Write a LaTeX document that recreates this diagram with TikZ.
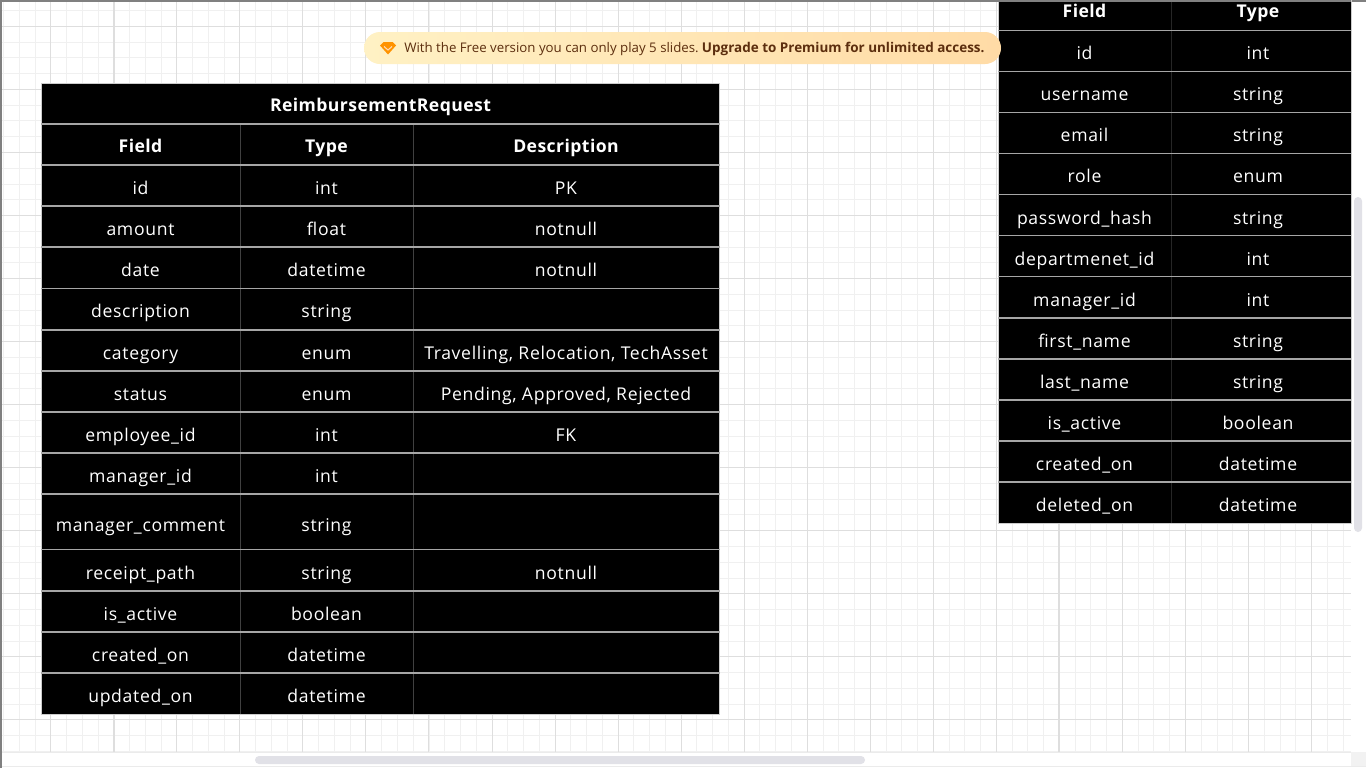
\documentclass[tikz,border=0pt]{standalone}
\usepackage{fontspec}
\setmainfont{Open Sans}
\newfontfamily\tablefont{Open Sans}[LetterSpace=3.8]
\newfontfamily\headfont{Open Sans}[LetterSpace=2.4]
\usetikzlibrary{positioning}
\definecolor{gridminor}{HTML}{F0F0F0}
\definecolor{gridmajor}{HTML}{DEDEDE}
\definecolor{bannerleft}{HTML}{FFF1C4}
\definecolor{bannerright}{HTML}{FFDBA6}
\definecolor{bannertext}{HTML}{5C2E0E}
\definecolor{scrollthumb}{HTML}{E1E1E7}
\begin{document}
\begin{tikzpicture}[
	x=0.75pt, y=-0.75pt,
	cellnode/.style={text=white, font=\tablefont\fontsize{13.2}{15}\selectfont, inner sep=0pt, anchor=center, text height=12.5pt, text depth=2.7pt},
	headnode/.style={text=white, font=\headfont\fontsize{13.2}{15}\selectfont\bfseries, inner sep=0pt, anchor=center, text height=12.5pt, text depth=2.7pt},
	rowrule/.style={draw=black!35, line width=0.8pt},
	colrule/.style={draw=black!75, line width=0.5pt},
	tablebox/.style={fill=black, draw=black!20, line width=0.4pt}
	]
	\useasboundingbox (0,0) rectangle (1366,768);
	\fill[white] (0,0) rectangle (1366,768);

	% Canvas grid
	\begin{scope}
		\clip (2,2) rectangle (1351,752);
		\foreach \k in {-1,...,85} {
			\draw[gridminor, line width=0.6pt] ({3.4+15.76*\k},0) -- ({3.4+15.76*\k},768);
			\draw[gridminor, line width=0.6pt] (0,{-5.2+15.76*\k}) -- (1366,{-5.2+15.76*\k});
		}
		\foreach \k in {-1,...,21} {
			\draw[gridmajor, line width=0.6pt] ({50.7+63.03*\k},0) -- ({50.7+63.03*\k},768);
			\draw[gridmajor, line width=0.6pt] (0,{26.3+63.03*\k}) -- (1366,{26.3+63.03*\k});
		}
		\draw[gridmajor, line width=1.2pt] (113.7,0) -- (113.7,768);
		\draw[gridmajor, line width=1.2pt] (1058.9,0) -- (1058.9,768);
	\end{scope}

	% Window edges and scrollbars
	\draw[black!50, line width=1pt] (1,768) -- (1,1) -- (1366,1);
	\fill[white] (2,752) rectangle (1366,768);
	\fill[white] (1351,2) rectangle (1366,768);
	\draw[black!8, line width=0.6pt] (2,752.5) -- (1351,752.5);
	\draw[black!8, line width=0.6pt] (2,766.5) -- (1366,766.5);
	\fill[black!5] (1351,752) rectangle (1366,766);
	\fill[scrollthumb, rounded corners=3pt] (255,756) rectangle (865,764);
	\fill[scrollthumb, rounded corners=3pt] (1354,197) rectangle (1362,532);

	% Left table
	\filldraw[tablebox] (41,83.5) rectangle (719.5,714);
	\node[headnode] (rtitle) at (380.5,105) {ReimbursementRequest};
	\node[headnode] (rfield) at (140.5,146) {Field};
	\node[headnode] (rtype) at (326.5,146) {Type};
	\node[headnode] (rdesc) at (566,146) {Description};

	\node[cellnode] (r1a) at (140.5,188) {id};
	\node[cellnode] (r1b) at (326.5,188) {int};
	\node[cellnode] (r1c) at (566,188) {PK};
	\node[cellnode] (r2a) at (140.5,229) {amount};
	\node[cellnode] (r2b) at (326.5,229) {float};
	\node[cellnode] (r2c) at (566,229) {notnull};
	\node[cellnode] (r3a) at (140.5,270) {date};
	\node[cellnode] (r3b) at (326.5,270) {datetime};
	\node[cellnode] (r3c) at (566,270) {notnull};
	\node[cellnode] (r4a) at (140.5,311) {description};
	\node[cellnode] (r4b) at (326.5,311) {string};
	\node[cellnode] (r5a) at (140.5,352.5) {category};
	\node[cellnode] (r5b) at (326.5,352.5) {enum};
	\node[cellnode] (r5c) at (566,352.5) {Travelling, Relocation, TechAsset};
	\node[cellnode] (r6a) at (140.5,393.5) {status};
	\node[cellnode] (r6b) at (326.5,393.5) {enum};
	\node[cellnode] (r6c) at (566,393.5) {Pending, Approved, Rejected};
	\node[cellnode] (r7a) at (140.5,434.5) {employee\_id};
	\node[cellnode] (r7b) at (326.5,434.5) {int};
	\node[cellnode] (r7c) at (566,434.5) {FK};
	\node[cellnode] (r8a) at (140.5,476) {manager\_id};
	\node[cellnode] (r8b) at (326.5,476) {int};
	\node[cellnode] (r9a) at (140.5,524.5) {manager\_comment};
	\node[cellnode] (r9b) at (326.5,524.5) {string};
	\node[cellnode] (r10a) at (140.5,572.5) {receipt\_path};
	\node[cellnode] (r10b) at (326.5,572.5) {string};
	\node[cellnode] (r10c) at (566,572.5) {notnull};
	\node[cellnode] (r11a) at (140.5,614) {is\_active};
	\node[cellnode] (r11b) at (326.5,614) {boolean};
	\node[cellnode] (r12a) at (140.5,655) {created\_on};
	\node[cellnode] (r12b) at (326.5,655) {datetime};
	\node[cellnode] (r13a) at (140.5,696) {updated\_on};
	\node[cellnode] (r13b) at (326.5,696) {datetime};

	% Left table rules
	\draw[colrule] (240.5,124) -- (240.5,714);
	\draw[colrule] (413.5,124) -- (413.5,714);
	\foreach \y in {124,165,206,247,288.5,330,371,412,453,494,549.5,591,632,673} {
		\draw[rowrule] (41,\y) -- (719.5,\y);
	}

	% Right table
	\filldraw[tablebox] (998,-3) rectangle (1351,523.5);
	\node[headnode] (ufield) at (1084.5,11) {Field};
	\node[headnode] (utype) at (1258,11) {Type};

	\node[cellnode] (u1a) at (1084.5,53) {id};
	\node[cellnode] (u1b) at (1258,53) {int};
	\node[cellnode] (u2a) at (1084.5,94) {username};
	\node[cellnode] (u2b) at (1258,94) {string};
	\node[cellnode] (u3a) at (1084.5,135) {email};
	\node[cellnode] (u3b) at (1258,135) {string};
	\node[cellnode] (u4a) at (1084.5,176) {role};
	\node[cellnode] (u4b) at (1258,176) {enum};
	\node[cellnode] (u5a) at (1084.5,217.5) {password\_hash};
	\node[cellnode] (u5b) at (1258,217.5) {string};
	\node[cellnode] (u6a) at (1084.5,258.5) {departmenet\_id};
	\node[cellnode] (u6b) at (1258,258.5) {int};
	\node[cellnode] (u7a) at (1084.5,299.5) {manager\_id};
	\node[cellnode] (u7b) at (1258,299.5) {int};
	\node[cellnode] (u8a) at (1084.5,341) {first\_name};
	\node[cellnode] (u8b) at (1258,341) {string};
	\node[cellnode] (u9a) at (1084.5,382) {last\_name};
	\node[cellnode] (u9b) at (1258,382) {string};
	\node[cellnode] (u10a) at (1084.5,423) {is\_active};
	\node[cellnode] (u10b) at (1258,423) {boolean};
	\node[cellnode] (u11a) at (1084.5,464) {created\_on};
	\node[cellnode] (u11b) at (1258,464) {datetime};
	\node[cellnode] (u12a) at (1084.5,505) {deleted\_on};
	\node[cellnode] (u12b) at (1258,505) {datetime};

	% Right table rules
	\draw[colrule, draw=black!85] (1171.5,2) -- (1171.5,523);
	\foreach \y in {30.5,71.5,112.5,153.5,194.5,235.5,276.5,318,359,400,441,482} {
		\draw[rowrule] (998,\y) -- (1351,\y);
	}
	\draw[black!50, line width=1pt] (998,1) -- (1351,1);

	% Banner
	\node[left color=bannerleft, right color=bannerright, rounded corners=12pt, minimum width=637*0.75pt, minimum height=32*0.75pt, inner sep=0pt] (banner) at (682.5,48) {};
	\node[text=bannertext, font=\fontsize{9.95}{12}\selectfont, inner sep=0pt, anchor=west, text height=8pt, text depth=2pt] (bannerlabel) at (404,48) {With the Free version you can only play 5 slides.\hspace{-1pt} \textbf{\fontsize{10.1}{12}\selectfont Upgrade to Premium for unlimited access.}};
	\fill[orange!85!yellow] (380,45.5) -- (383.5,42) -- (392.5,42) -- (396,45.5) -- (388,54.5) -- cycle;
	\draw[white!70!orange, line width=0.8pt] (384,46.5) -- (388,50) -- (392,46.5);
\end{tikzpicture}
\end{document}
